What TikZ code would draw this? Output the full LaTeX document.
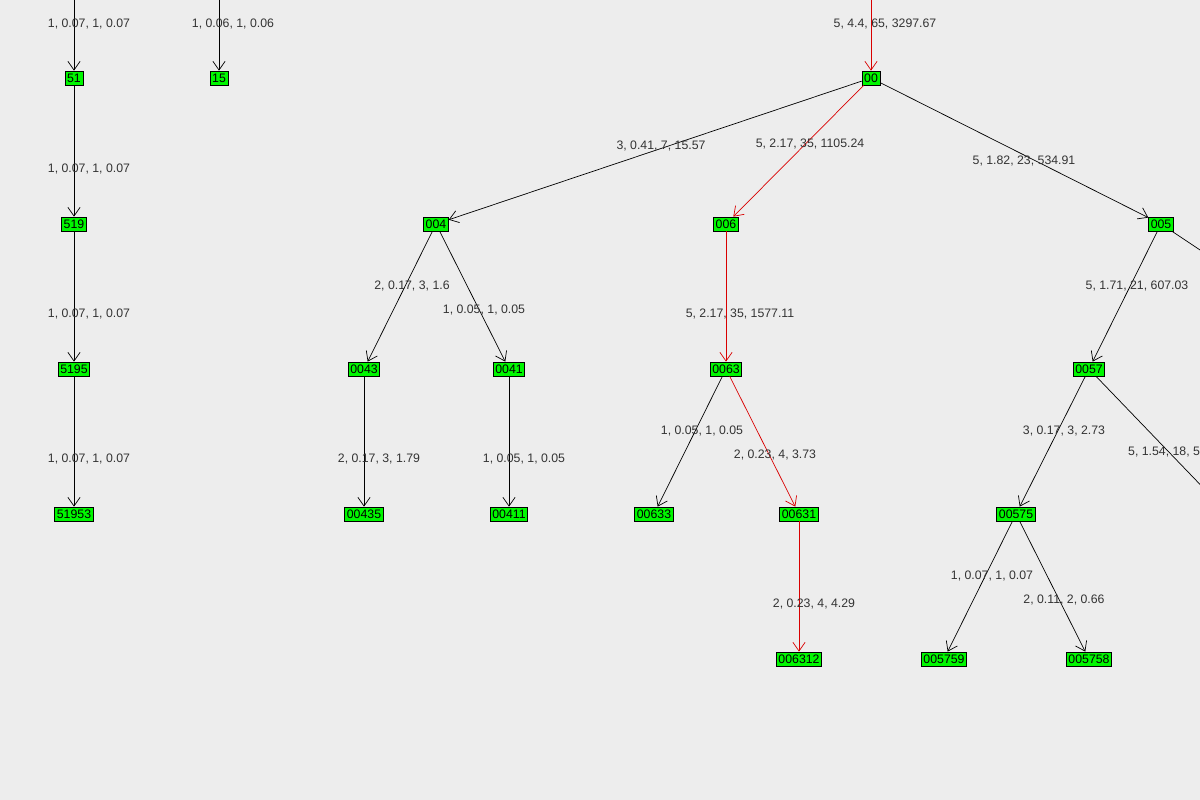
\documentclass[tikz,border=0pt]{standalone}
\usepackage{fontspec}
\setmainfont{Liberation Sans}
\usetikzlibrary{arrows.meta,positioning}
\begin{document}
\begin{tikzpicture}[x=0.02cm,y=-0.02cm,>={Straight Barb[length=5pt,width=7pt]}]
            \tikzstyle{box}=[draw,fill=green!90!black!30!green,inner sep=1.2pt,minimum height=0.28cm,font=\fontsize{7}{8}\selectfont];
            \tikzstyle{lbl}=[font=\fontsize{7}{8}\selectfont,text=black!80];
            \tikzstyle{hot}=[draw=red!85!black];
            \fill[black!7] (0,0) rectangle (1200,800);
            \clip (0,0) rectangle (1200,800);
            % off-image ends
            \coordinate (t51) at (74,-5);
            \coordinate (t15) at (219,-5);
            \coordinate (t00) at (871,-5);
            \coordinate (r005) at (1215,260);
            \coordinate (r0057) at (1215,500);
            % nodes
            \node[box] (n51) at (74,78) {51};
            \node[box] (n15) at (219,78) {15};
            \node[box] (n00) at (871,78) {00};
            \node[box] (n519) at (74,224) {519};
            \node[box] (n004) at (436,224) {004};
            \node[box] (n006) at (726,224) {006};
            \node[box] (n005) at (1161,224) {005};
            \node[box] (n5195) at (74,369) {5195};
            \node[box] (n0043) at (364,369) {0043};
            \node[box] (n0041) at (509,369) {0041};
            \node[box] (n0063) at (726,369) {0063};
            \node[box] (n0057) at (1089,369) {0057};
            \node[box] (n51953) at (74,514) {51953};
            \node[box] (n00435) at (364,514) {00435};
            \node[box] (n00411) at (509,514) {00411};
            \node[box] (n00633) at (654,514) {00633};
            \node[box] (n00631) at (799,514) {00631};
            \node[box] (n00575) at (1016,514) {00575};
            \node[box] (n006312) at (799,659) {006312};
            \node[box] (n005759) at (944,659) {005759};
            \node[box] (n005758) at (1089,659) {005758};
            % edges
            \path[draw] [->] (t51) -- (n51);
            \path[draw] [->] (t15) -- (n15);
            \path[draw,hot] [->] (t00) -- (n00);
            \path[draw] [->] (n51) -- (n519);
            \path[draw] [->] (n519) -- (n5195);
            \path[draw] [->] (n5195) -- (n51953);
            \path[draw] [->] (n00) -- (n004);
            \path[draw,hot] [->] (n00) -- (n006);
            \path[draw] [->] (n00) -- (n005);
            \path[draw] (n005) -- (r005);
            \path[draw] [->] (n004) -- (n0043);
            \path[draw] [->] (n004) -- (n0041);
            \path[draw,hot] [->] (n006) -- (n0063);
            \path[draw] [->] (n005) -- (n0057);
            \path[draw] [->] (n0043) -- (n00435);
            \path[draw] [->] (n0041) -- (n00411);
            \path[draw] [->] (n0063) -- (n00633);
            \path[draw,hot] [->] (n0063) -- (n00631);
            \path[draw] [->] (n0057) -- (n00575);
            \path[draw] (n0057) -- (r0057);
            \path[draw,hot] [->] (n00631) -- (n006312);
            \path[draw] [->] (n00575) -- (n005759);
            \path[draw] [->] (n00575) -- (n005758);
            % labels
            \node[lbl] (l1) at (89,24) {1, 0.07, 1, 0.07};
            \node[lbl] (l2) at (233,24) {1, 0.06, 1, 0.06};
            \node[lbl] (l3) at (885,24) {5, 4.4, 65, 3297.67};
            \node[lbl] (l4) at (89,169) {1, 0.07, 1, 0.07};
            \node[lbl] (l5) at (89,314) {1, 0.07, 1, 0.07};
            \node[lbl] (l6) at (89,459) {1, 0.07, 1, 0.07};
            \node[lbl] (l7) at (661,146) {3, 0.41, 7, 15.57};
            \node[lbl] (l8) at (810,144) {5, 2.17, 35, 1105.24};
            \node[lbl] (l9) at (1024,161) {5, 1.82, 23, 534.91};
            \node[lbl] (l10) at (412,286) {2, 0.17, 3, 1.6};
            \node[lbl] (l11) at (484,310) {1, 0.05, 1, 0.05};
            \node[lbl] (l12) at (740,314) {5, 2.17, 35, 1577.11};
            \node[lbl] (l13) at (1137,286) {5, 1.71, 21, 607.03};
            \node[lbl] (l14) at (379,459) {2, 0.17, 3, 1.79};
            \node[lbl] (l15) at (524,459) {1, 0.05, 1, 0.05};
            \node[lbl] (l16) at (702,431) {1, 0.05, 1, 0.05};
            \node[lbl] (l17) at (775,455) {2, 0.23, 4, 3.73};
            \node[lbl] (l18) at (1064,431) {3, 0.17, 3, 2.73};
            \node[lbl,anchor=west] (l19) at (1122,452) {5, 1.54, 18, 584.3};
            \node[lbl] (l20) at (814,604) {2, 0.23, 4, 4.29};
            \node[lbl] (l21) at (992,576) {1, 0.07, 1, 0.07};
            \node[lbl] (l22) at (1064,600) {2, 0.11, 2, 0.66};
        \end{tikzpicture}
\end{document}
